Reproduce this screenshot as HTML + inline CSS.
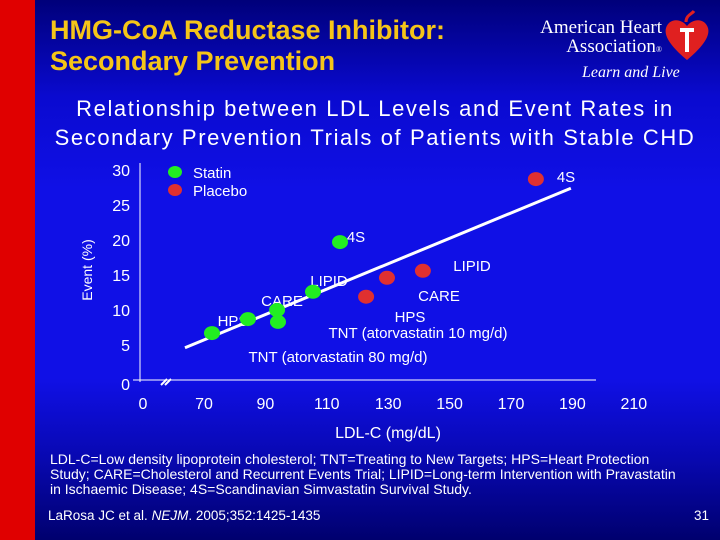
<!DOCTYPE html>
<html><head><meta charset="utf-8"><style>
body{margin:0;width:720px;height:540px;overflow:hidden;font-family:"Liberation Sans",sans-serif;}
#slide{position:relative;width:720px;height:540px;background:linear-gradient(#00007a 0%,#0a0ad0 18%,#1010e6 35%,#1010e6 70%,#0808b0 85%,#00006e 100%);}
.t{position:absolute;color:#fff;white-space:nowrap;}
</style></head><body>
<div id="slide">
<div style="position:absolute;left:0;top:0;width:35px;height:540px;background:#e00000"></div>
<div class="t" style="left:50px;top:15px;color:#f5c518;font-weight:bold;font-size:27px;line-height:31px;">HMG-CoA Reductase Inhibitor:<br>Secondary Prevention</div>
<div style="position:absolute;left:540px;top:10px;width:170px;height:75px;">
<div class="t" style="left:0;top:8px;font-family:'Liberation Serif',serif;font-size:19px;line-height:19px;text-align:right;width:122px;">American Heart<br>Association<span style="font-size:8px">®</span></div>
<div class="t" style="left:42px;top:54px;font-family:'Liberation Serif',serif;font-style:italic;font-size:16px;">Learn and Live</div>
<svg style="position:absolute;left:124px;top:0" width="46" height="52"><path d="M23 50 C5 35 0 25 2 18 C5 8 17 8 23 16 C29 8 41 8 44 18 C46 25 41 35 23 50Z" fill="#e02020"/><path d="M16 20h14M23 20v22" stroke="#fff" stroke-width="4"/><path d="M22 12 C22 5 28 4 30 1" stroke="#e02020" stroke-width="3" fill="none"/></svg>
</div>
<div class="t" style="left:0;width:750px;text-align:center;top:94px;font-size:22px;letter-spacing:1.6px;line-height:29px;">Relationship between LDL Levels and Event Rates in<br>Secondary Prevention Trials of Patients with Stable CHD</div>
<svg id="chart" width="720" height="540" style="position:absolute;left:0;top:0" font-family="Liberation Sans, sans-serif"></svg>
<div class="t" style="left:50px;top:452px;font-size:14px;line-height:15px;">LDL-C=Low density lipoprotein cholesterol; TNT=Treating to New Targets; HPS=Heart Protection<br>Study; CARE=Cholesterol and Recurrent Events Trial; LIPID=Long-term Intervention with Pravastatin<br>in Ischaemic Disease; 4S=Scandinavian Simvastatin Survival Study.</div>
<div class="t" style="left:48px;top:508px;font-size:13.5px;">LaRosa JC et al. <i>NEJM</i>. 2005;352:1425-1435</div>
<div class="t" style="left:694px;top:508px;font-size:13.5px;">31</div>
</div>
<script>
const xTicks=[70,90,110,130,150,170,190,210];
const yTicks=[0,5,10,15,20,25,30];
const statinX=[72.6,84.3,93.8,94.1,105.5,114.3];
const statinY=[6.7,8.7,10.0,8.3,12.6,19.7];
const placeboX=[122.8,129.6,141.3,178.1];
const placeboY=[11.9,14.6,15.6,28.7];
const trendX=[63.8,189.5];
const trendY=[4.6,27.4];
const NS='http://www.w3.org/2000/svg';
const svg=document.getElementById('chart');
const xs=v=>204+(v-70)*3.07;
const ys=v=>380-v*7.0;
function mk(tag,a,txt){const e=document.createElementNS(NS,tag);for(const k in a)e.setAttribute(k,a[k]);if(txt!==undefined)e.textContent=txt;svg.appendChild(e);return e;}
let e;
e=mk('line',{x1:140,y1:163,x2:140,y2:382,stroke:'#fff','stroke-width':1});


e=mk('line',{x1:133,y1:380,x2:596,y2:380,stroke:'#fff','stroke-width':1});


e=mk('path',{d:'M161 385 l6 -6 M165 385 l6 -6',stroke:'#fff','stroke-width':2});


e=mk('text',{x:143,y:409,fill:'#fff','font-size':16,'text-anchor':'middle'},'0');


xTicks.forEach(v=>{e=mk('text',{x:xs(v),y:409,fill:'#fff','font-size':16,'text-anchor':'middle'},String(v));

});
yTicks.forEach(v=>{e=mk('text',{x:130,y:ys(v)+6+(v===0?4:0),fill:'#fff','font-size':16,'text-anchor':'end'},String(v));

});
e=mk('text',{x:388,y:438,fill:'#fff','font-size':16,'text-anchor':'middle'},'LDL-C (mg/dL)');


e=mk('text',{x:0,y:0,fill:'#fff','font-size':14,'text-anchor':'middle',transform:'translate(92,270) rotate(-90)'},'Event (%)');


const labels=[['4S',566,182,'middle'],['4S',356,242,'middle'],['LIPID',472,271,'middle'],['LIPID',329,286,'middle'],['CARE',439,301,'middle'],['CARE',282,306,'middle'],['HPS',410,322,'middle'],['HPS',233,326,'middle'],['TNT (atorvastatin 10 mg/d)',418,338,'middle'],['TNT (atorvastatin 80 mg/d)',338,362,'middle']];
labels.forEach(l=>{e=mk('text',{x:l[1],y:l[2],fill:'#fff','font-size':15,'text-anchor':l[3]},l[0]);

});
e=mk('line',{x1:xs(trendX[0]),y1:ys(trendY[0]),x2:xs(trendX[1]),y2:ys(trendY[1]),stroke:'#fff','stroke-width':3});


statinX.forEach((v,i)=>{e=mk('ellipse',{cx:xs(v),cy:ys(statinY[i]),rx:8,ry:7,fill:'#22ee22'});

});
placeboX.forEach((v,i)=>{e=mk('ellipse',{cx:xs(v),cy:ys(placeboY[i]),rx:8,ry:7,fill:'#e03030'});

});
e=mk('ellipse',{cx:175,cy:172,rx:7,ry:6,fill:'#22ee22'});


e=mk('ellipse',{cx:175,cy:190,rx:7,ry:6,fill:'#e03030'});


e=mk('text',{x:193,y:178,fill:'#fff','font-size':15},'Statin');


e=mk('text',{x:193,y:196,fill:'#fff','font-size':15},'Placebo');


</script>
</body></html>
